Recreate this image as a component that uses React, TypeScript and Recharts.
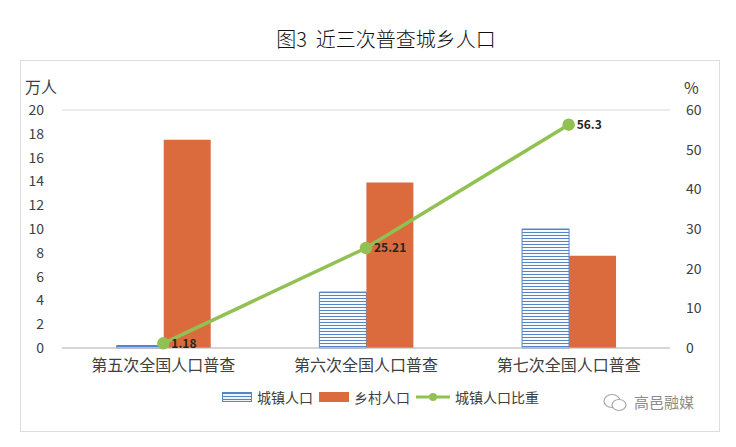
import { ComposedChart, Bar, Line, XAxis, YAxis, CartesianGrid, LabelList } from 'recharts'

// census rounds
const categories = ['第五次全国人口普查', '第六次全国人口普查', '第七次全国人口普查']
// 万人
const urbanPop = [0.21, 4.7, 10.0]
const ruralPop = [17.5, 13.9, 7.75]
// %
const urbanShare = [1.18, 25.21, 56.3]

const leftTicks = [0, 2, 4, 6, 8, 10, 12, 14, 16, 18, 20]
const rightTicks = [0, 10, 20, 30, 40, 50, 60]

const FONT = '"Noto Sans CJK SC", "Noto Sans", sans-serif'
const BLUE = '#5585c5'
const ORANGE = '#db6a3d'
const GREEN = '#92c153'

const data = categories.map((name, i) => ({
  name,
  urban: urbanPop[i],
  rural: ruralPop[i],
  share: urbanShare[i],
}))

function LegendRow() {
  const item = { display: 'flex', alignItems: 'center', gap: 5 } as const
  return (
    <div style={{ position: 'absolute', left: 222, top: 387, display: 'flex', alignItems: 'center', gap: 6, fontSize: 14, color: '#404040' }}>
      <div style={item}>
        <svg width={30} height={10}>
          <rect x={0.5} y={0.5} width={29} height={9} fill="url(#hatchLegend)" stroke={BLUE} />
          <defs>
            <pattern id="hatchLegend" width={4} height={3} patternUnits="userSpaceOnUse">
              <rect width={4} height={3} fill="#fff" />
              <line x1={0} y1={1.5} x2={4} y2={1.5} stroke={BLUE} strokeWidth={1.2} />
            </pattern>
          </defs>
        </svg>
        <span>城镇人口</span>
      </div>
      <div style={item}>
        <svg width={30} height={10}>
          <rect width={30} height={10} fill={ORANGE} />
        </svg>
        <span>乡村人口</span>
      </div>
      <div style={item}>
        <svg width={34} height={10}>
          <line x1={0} y1={5} x2={34} y2={5} stroke={GREEN} strokeWidth={3} />
          <circle cx={17} cy={5} r={4} fill={GREEN} />
        </svg>
        <span>城镇人口比重</span>
      </div>
    </div>
  )
}

function Watermark() {
  return (
    <div style={{ position: 'absolute', left: 602, top: 391, display: 'flex', alignItems: 'center', gap: 6, fontSize: 15, color: '#8c8c8c' }}>
      <svg width={26} height={20}>
        <ellipse cx={10} cy={9} rx={8} ry={6.5} fill="none" stroke="#a6a6a6" strokeWidth={1.2} />
        <ellipse cx={17} cy={13} rx={7} ry={5.5} fill="#fff" stroke="#a6a6a6" strokeWidth={1.2} />
      </svg>
      <span>高邑融媒</span>
    </div>
  )
}

export default function App() {
  return (
    <div style={{ position: 'absolute', left: 0, top: 0, width: 736, height: 447, background: '#fff', fontFamily: FONT, overflow: 'hidden' }}>
      <div style={{ position: 'absolute', left: 0, width: 772, top: 24, textAlign: 'center', fontSize: 20, fontWeight: 300, color: '#111' }}>
        图3&nbsp;&nbsp;近三次普查城乡人口
      </div>
      <div style={{ position: 'absolute', left: 20, top: 60, width: 700, height: 372, border: '1px solid #dcdcdc', boxSizing: 'border-box' }} />
      <div style={{ position: 'absolute', left: 25, top: 78, fontSize: 16, lineHeight: 1, color: '#404040' }}>万人</div>
      <div style={{ position: 'absolute', left: 684, top: 79, fontSize: 16, lineHeight: 1, color: '#404040' }}>%</div>

      <div style={{ position: 'absolute', left: 0, top: 0 }}>
        <ComposedChart
          width={736}
          height={447}
          data={data}
          margin={{ top: 110, right: 0, left: 0, bottom: 69 }}
          barGap={0}
          barCategoryGap="27%"
        >
          <defs>
            <pattern id="hatch" width={4} height={3} patternUnits="userSpaceOnUse">
              <rect width={4} height={3} fill="#fff" />
              <line x1={0} y1={1.5} x2={4} y2={1.5} stroke={BLUE} strokeWidth={1.1} />
            </pattern>
          </defs>
          <CartesianGrid stroke="#d9d9d9" vertical={false} />
          <XAxis
            dataKey="name"
            height={30}
            tickLine={false}
            axisLine={{ stroke: '#bfbfbf' }}
            tick={{ fontSize: 16, fill: '#404040', fontFamily: FONT }}
            tickMargin={6}
          />
          <YAxis
            yAxisId="left"
            width={62}
            domain={[0, 20]}
            ticks={leftTicks}
            interval={0}
            axisLine={false}
            tickLine={false}
            tick={{ fontSize: 14, fill: '#404040', fontFamily: FONT }}
            tickMargin={12}
          />
          <YAxis
            yAxisId="right"
            orientation="right"
            width={66}
            domain={[0, 60]}
            ticks={rightTicks}
            interval={0}
            axisLine={false}
            tickLine={false}
            tick={{ fontSize: 14, fill: '#404040', fontFamily: FONT }}
            tickMargin={10}
          />
          <Bar yAxisId="left" dataKey="urban" fill="url(#hatch)" stroke={BLUE} strokeWidth={1} isAnimationActive={false} />
          <Bar yAxisId="left" dataKey="rural" fill={ORANGE} isAnimationActive={false} />
          <Line
            yAxisId="right"
            dataKey="share"
            stroke={GREEN}
            strokeWidth={3.5}
            dot={{ r: 4.5, fill: GREEN, stroke: GREEN }}
            isAnimationActive={false}
          >
            <LabelList dataKey="share" position="right" offset={8} style={{ fontSize: 12, fontWeight: 'bold', fill: '#262626', fontFamily: FONT }} />
          </Line>
        </ComposedChart>
      </div>
      <LegendRow />
      <Watermark />
    </div>
  )
}
